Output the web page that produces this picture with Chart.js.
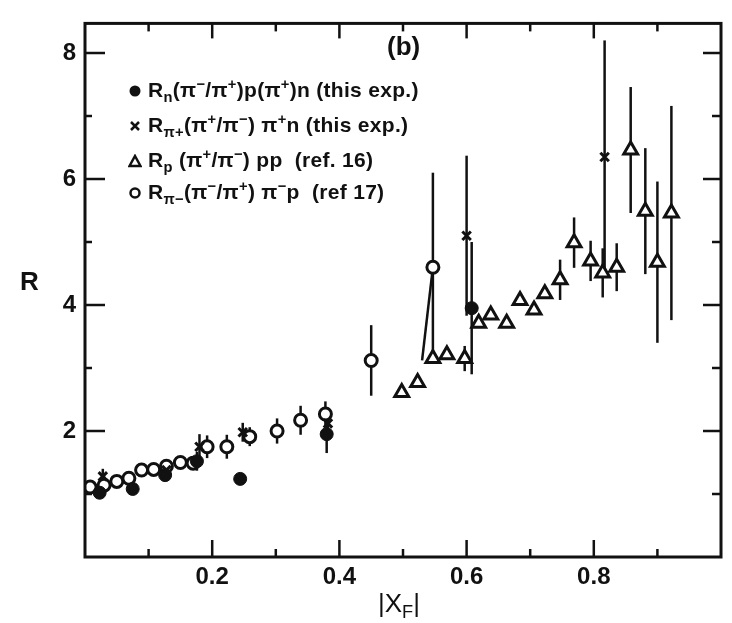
<!DOCTYPE html>
<html>
<head>
<meta charset="utf-8">
<script src="https://cdn.jsdelivr.net/npm/chart.js@4.4.0/dist/chart.umd.min.js"></script>
<style>
  html, body { margin: 0; padding: 0; background: #fff; }
  #wrap { position: relative; width: 732px; height: 623px; }
  canvas { display: block; }
  .lbl { position: absolute; font-family: "Liberation Sans", Arial, sans-serif; font-weight: bold; color: #111; white-space: nowrap; }
  .lbl sub, .lbl sup { font-size: 70%; line-height: 0; }
  .row { position: absolute; left: 128px; font-size: 21px; letter-spacing: 0.3px; height: 24px; line-height: 24px; }
  .row svg { vertical-align: middle; margin-right: 6px; }
</style>
</head>
<body>
<div id="wrap">
  <canvas id="chart" width="732" height="623"></canvas>
  <div class="lbl" style="left:387px;top:31px;font-size:26px;">(b)</div>
  <div class="lbl row" style="top:78px;"><svg width="14" height="14"><circle cx="7" cy="7" r="5.5" fill="#111"/></svg>R<sub>n</sub>(π<sup>−</sup>/π<sup>+</sup>)p(π<sup>+</sup>)n (this exp.)</div>
  <div class="lbl row" style="top:113px;"><svg width="14" height="14"><path d="M3 3L11 11M11 3L3 11" stroke="#111" stroke-width="2.5"/></svg>R<sub>π+</sub>(π<sup>+</sup>/π<sup>−</sup>) π<sup>+</sup>n (this exp.)</div>
  <div class="lbl row" style="top:148px;"><svg width="14" height="14"><path d="M7 2L12.5 12H1.5Z" fill="#fff" stroke="#111" stroke-width="2.5"/></svg>R<sub>p</sub> (π<sup>+</sup>/π<sup>−</sup>) pp &nbsp;(ref. 16)</div>
  <div class="lbl row" style="top:180px;"><svg width="14" height="14"><circle cx="7" cy="7" r="4.5" fill="#fff" stroke="#111" stroke-width="2.5"/></svg>R<sub>π−</sub>(π<sup>−</sup>/π<sup>+</sup>) π<sup>−</sup>p &nbsp;(ref 17)</div>
  <div class="lbl" style="left:20px;top:266px;font-size:26px;">R</div>
  <div class="lbl" style="left:378px;top:588px;font-size:26px;font-weight:normal;">|X<sub>F</sub>|</div>
</div>
<script>
// R_n (pi-/pi+) p(pi+)n, this exp. -- filled circles
const rnX = [0.023, 0.075, 0.126, 0.176, 0.244, 0.380, 0.608];
const rnY = [1.02, 1.08, 1.30, 1.52, 1.24, 1.95, 3.95];
const rnErr = [0.07, 0.08, 0.10, 0.15, 0.08, 0.30, 1.05];

// R_pi+ (pi+/pi-) pi+n, this exp. -- crosses
const rpipX = [0.028, 0.128, 0.180, 0.248, 0.382, 0.600, 0.817];
const rpipY = [1.28, 1.38, 1.75, 1.98, 2.12, 5.10, 6.35];
const rpipErr = [0.12, 0.10, 0.20, 0.15, 0.25, 1.27, 1.85];

// R_p (pi+/pi-) pp, ref. 16 -- open triangles
const rpX = [0.498, 0.523, 0.547, 0.569, 0.597, 0.619, 0.638, 0.663, 0.684, 0.706,
             0.723, 0.747, 0.769, 0.795, 0.814, 0.836, 0.858, 0.881, 0.900, 0.922];
const rpY = [2.61, 2.77, 3.15, 3.21, 3.15, 3.71, 3.84, 3.71, 4.07, 3.92,
             4.18, 4.40, 4.99, 4.70, 4.51, 4.60, 6.46, 5.49, 4.68, 5.46];
const rpErr = [0.08, 0.06, 0.06, 0.06, 0.20, 0.06, 0.06, 0.06, 0.06, 0.06,
               0.06, 0.32, 0.40, 0.32, 0.39, 0.38, 1.00, 1.00, 1.28, 1.70];

// R_pi- (pi-/pi+) pi-p, ref 17 -- open circles
const rpimX = [0.008, 0.030, 0.050, 0.069, 0.089, 0.108, 0.128, 0.150, 0.170, 0.192,
               0.223, 0.259, 0.302, 0.339, 0.378, 0.450, 0.547];
const rpimY = [1.11, 1.14, 1.20, 1.25, 1.38, 1.39, 1.44, 1.50, 1.49, 1.75,
               1.75, 1.91, 2.00, 2.17, 2.27, 3.12, 4.60];
const rpimErr = [0.05, 0.14, 0.05, 0.05, 0.05, 0.05, 0.05, 0.05, 0.05, 0.18,
                 0.19, 0.15, 0.20, 0.23, 0.20, 0.56, 1.50];

// slanted line below the xF = 0.547 point
const linkX = [0.547, 0.530];
const linkY = [4.60, 3.12];

const xMajor = [0.2, 0.4, 0.6, 0.8];
const xMinor = [0.1, 0.3, 0.5, 0.7, 0.9];
const yMajor = [2, 4, 6, 8];
const yMinor = [1, 3, 5, 7];

const INK = '#111';
const pts = (xs, ys) => xs.map((v, i) => ({ x: v, y: ys[i] }));

const errorBars = {
  id: 'errorBars',
  beforeDatasetsDraw(chart) {
    const { ctx, scales: { x, y } } = chart;
    ctx.save();
    ctx.strokeStyle = INK;
    ctx.lineWidth = 2.5;
    chart.data.datasets.forEach(ds => {
      if (!ds.errors) return;
      ds.data.forEach((p, i) => {
        const e = ds.errors[i];
        const px = x.getPixelForValue(p.x);
        ctx.beginPath();
        ctx.moveTo(px, y.getPixelForValue(p.y - e));
        ctx.lineTo(px, y.getPixelForValue(p.y + e));
        ctx.stroke();
      });
    });
    ctx.restore();
  }
};

const frame = {
  id: 'frame',
  afterDatasetsDraw(chart) {
    const { ctx, chartArea: a, scales: { x, y } } = chart;
    const line = (x1, y1, x2, y2) => { ctx.beginPath(); ctx.moveTo(x1, y1); ctx.lineTo(x2, y2); ctx.stroke(); };
    ctx.save();
    ctx.strokeStyle = INK;
    ctx.lineWidth = 3;
    ctx.strokeRect(a.left, a.top, a.right - a.left, a.bottom - a.top);
    ctx.lineWidth = 2.5;
    xMajor.forEach(v => {
      const p = x.getPixelForValue(v);
      line(p, a.bottom, p, a.bottom - 17);
      line(p, a.top, p, a.top + 15);
    });
    xMinor.forEach(v => {
      const p = x.getPixelForValue(v);
      line(p, a.bottom, p, a.bottom - 8);
      line(p, a.top, p, a.top + 8);
    });
    yMajor.forEach(v => {
      const p = y.getPixelForValue(v);
      line(a.left, p, a.left + 20, p);
      line(a.right, p, a.right - 18, p);
    });
    yMinor.forEach(v => {
      const p = y.getPixelForValue(v);
      line(a.left, p, a.left + 7, p);
      line(a.right, p, a.right - 9, p);
    });
    ctx.restore();
  }
};

new Chart(document.getElementById('chart'), {
  type: 'scatter',
  data: {
    datasets: [
      {
        label: 'Rn', data: pts(rnX, rnY), errors: rnErr,
        pointStyle: 'circle', pointRadius: 6.5, backgroundColor: INK, borderColor: INK, borderWidth: 1
      },
      {
        label: 'Rpi+', data: pts(rpipX, rpipY), errors: rpipErr,
        pointStyle: 'crossRot', pointRadius: 6, borderColor: INK, borderWidth: 3
      },
      {
        label: 'Rp', data: pts(rpX, rpY), errors: rpErr,
        pointStyle: 'triangle', pointRadius: 8, backgroundColor: '#fff', borderColor: INK, borderWidth: 3
      },
      {
        label: 'Rpi-', data: pts(rpimX, rpimY), errors: rpimErr,
        pointStyle: 'circle', pointRadius: 6, backgroundColor: '#fff', borderColor: INK, borderWidth: 3
      },
      {
        label: 'link', data: pts(linkX, linkY), showLine: true,
        pointRadius: 0, borderColor: INK, borderWidth: 2.5
      }
    ]
  },
  options: {
    responsive: false,
    animation: false,
    devicePixelRatio: 1,
    layout: { padding: { top: 12, right: 10, left: 0, bottom: 0 } },
    plugins: { legend: { display: false }, tooltip: { enabled: false } },
    scales: {
      x: {
        type: 'linear', min: 0, max: 1.0,
        afterBuildTicks: s => { s.ticks = xMajor.map(v => ({ value: v })); },
        afterFit: s => { s.height = 66; },
        grid: { display: false, drawTicks: false },
        border: { display: false },
        ticks: {
          padding: 6, color: INK,
          font: { family: 'Liberation Sans', size: 24, weight: 'bold' },
          callback: v => v.toFixed(1)
        }
      },
      y: {
        type: 'linear', min: 0, max: 8.47,
        afterBuildTicks: s => { s.ticks = yMajor.map(v => ({ value: v })); },
        afterFit: s => { s.width = 85; },
        grid: { display: false, drawTicks: false },
        border: { display: false },
        ticks: {
          padding: 9, color: INK,
          font: { family: 'Liberation Sans', size: 24, weight: 'bold' }
        }
      }
    }
  },
  plugins: [errorBars, frame]
});
</script>
</body>
</html>
